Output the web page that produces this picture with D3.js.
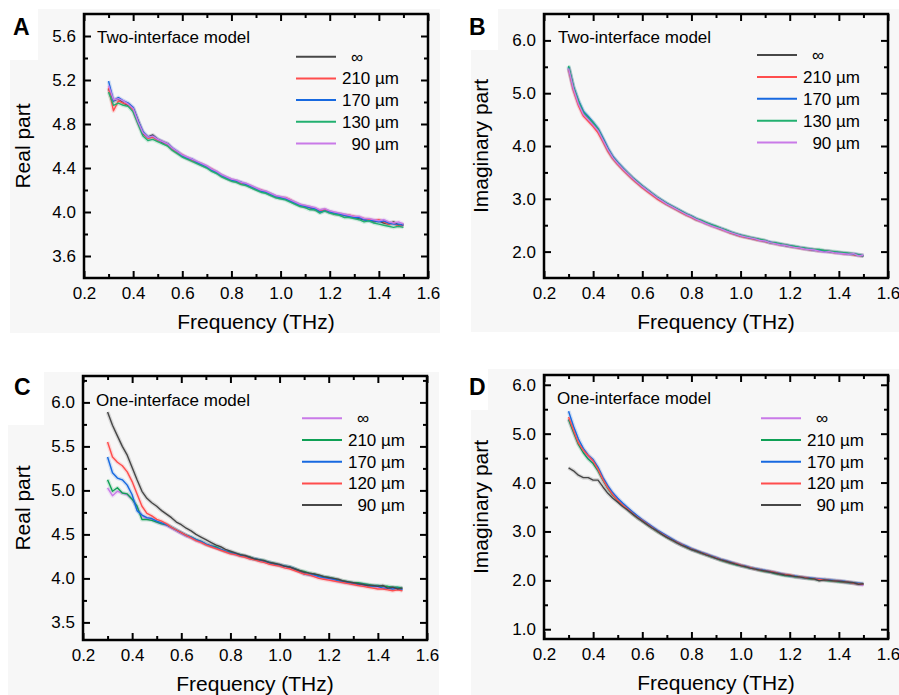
<!DOCTYPE html>
<html>
<head>
<meta charset="utf-8">
<script src="https://cdn.jsdelivr.net/npm/d3@7"></script>
<style>
	body { margin: 0; background: #fff; }
	svg { display: block; font-family: "Liberation Sans", Arial, sans-serif; }
</style>
</head>
<body>
<div id="chart"></div>
<script>
// frequency grid (THz), shared by every series
const freq = [
	0.30, 0.32, 0.34, 0.36, 0.38, 0.40, 0.42, 0.44, 0.46, 0.48,
	0.50, 0.52, 0.54, 0.56, 0.58, 0.60, 0.62, 0.64, 0.66, 0.68,
	0.70, 0.72, 0.74, 0.76, 0.78, 0.80, 0.82, 0.84, 0.86, 0.88,
	0.90, 0.92, 0.94, 0.96, 0.98, 1.00, 1.02, 1.04, 1.06, 1.08,
	1.10, 1.12, 1.14, 1.16, 1.18, 1.20, 1.22, 1.24, 1.26, 1.28,
	1.30, 1.32, 1.34, 1.36, 1.38, 1.40, 1.42, 1.44, 1.46, 1.48,
	1.50,
];

const labelsTwo = ["∞", "210 µm", "170 µm", "130 µm", "90 µm"];
const labelsOne = ["∞", "210 µm", "170 µm", "120 µm", "90 µm"];

// Panel A: real part, two-interface model
const aInf = [
	5.12, 5.01, 5.03, 4.99, 4.97, 4.94, 4.83, 4.71, 4.68, 4.70,
	4.66, 4.63, 4.62, 4.57, 4.54, 4.51, 4.49, 4.47, 4.45, 4.43,
	4.41, 4.38, 4.36, 4.33, 4.31, 4.29, 4.28, 4.26, 4.25, 4.23,
	4.21, 4.19, 4.18, 4.16, 4.14, 4.13, 4.12, 4.10, 4.08, 4.06,
	4.05, 4.04, 4.02, 4.01, 4.02, 4.00, 3.98, 3.98, 3.97, 3.96,
	3.95, 3.94, 3.93, 3.93, 3.91, 3.92, 3.90, 3.89, 3.91, 3.88,
	3.89,
];
const a210 = [
	5.13, 4.92, 5.01, 4.99, 4.98, 4.93, 4.81, 4.72, 4.67, 4.68,
	4.65, 4.64, 4.61, 4.57, 4.54, 4.52, 4.49, 4.47, 4.45, 4.43,
	4.41, 4.39, 4.36, 4.33, 4.31, 4.29, 4.28, 4.26, 4.25, 4.23,
	4.21, 4.20, 4.18, 4.16, 4.14, 4.13, 4.13, 4.11, 4.08, 4.06,
	4.05, 4.04, 4.03, 4.01, 4.02, 4.00, 3.99, 3.98, 3.97, 3.97,
	3.96, 3.95, 3.94, 3.93, 3.92, 3.93, 3.91, 3.89, 3.90, 3.87,
	3.88,
];
const a170 = [
	5.19, 5.01, 5.04, 5.01, 4.99, 4.95, 4.83, 4.73, 4.68, 4.69,
	4.66, 4.64, 4.62, 4.58, 4.55, 4.51, 4.49, 4.48, 4.45, 4.43,
	4.41, 4.38, 4.36, 4.33, 4.31, 4.29, 4.28, 4.27, 4.25, 4.23,
	4.21, 4.19, 4.18, 4.16, 4.14, 4.13, 4.12, 4.10, 4.08, 4.06,
	4.05, 4.04, 4.03, 4.00, 4.01, 4.00, 3.99, 3.98, 3.97, 3.96,
	3.95, 3.95, 3.93, 3.92, 3.92, 3.91, 3.92, 3.90, 3.89, 3.89,
	3.88,
];
const a130 = [
	5.09, 4.97, 4.99, 4.97, 4.96, 4.91, 4.80, 4.69, 4.65, 4.66,
	4.64, 4.62, 4.60, 4.56, 4.53, 4.50, 4.48, 4.46, 4.44, 4.42,
	4.40, 4.37, 4.35, 4.32, 4.30, 4.28, 4.27, 4.25, 4.24, 4.22,
	4.20, 4.18, 4.17, 4.15, 4.13, 4.12, 4.11, 4.09, 4.07, 4.05,
	4.04, 4.02, 4.02, 3.99, 4.01, 3.99, 3.98, 3.97, 3.95, 3.95,
	3.94, 3.93, 3.91, 3.92, 3.90, 3.89, 3.88, 3.87, 3.86, 3.87,
	3.86,
];
const a90 = [
	5.15, 5.02, 5.03, 5.01, 4.98, 4.94, 4.82, 4.72, 4.68, 4.69,
	4.66, 4.64, 4.62, 4.58, 4.55, 4.52, 4.50, 4.48, 4.46, 4.44,
	4.42, 4.39, 4.37, 4.34, 4.32, 4.30, 4.29, 4.27, 4.26, 4.24,
	4.22, 4.20, 4.19, 4.17, 4.15, 4.14, 4.13, 4.11, 4.09, 4.07,
	4.06, 4.05, 4.04, 4.02, 4.03, 4.01, 4.00, 3.99, 3.98, 3.97,
	3.96, 3.96, 3.94, 3.94, 3.93, 3.92, 3.93, 3.91, 3.90, 3.91,
	3.89,
];

// Panel B: imaginary part, two-interface model
const bInf = [
	5.49, 5.09, 4.82, 4.61, 4.52, 4.41, 4.30, 4.12, 3.93, 3.78,
	3.67, 3.57, 3.48, 3.39, 3.31, 3.23, 3.16, 3.09, 3.02, 2.96,
	2.90, 2.85, 2.80, 2.75, 2.70, 2.66, 2.61, 2.58, 2.54, 2.50,
	2.47, 2.43, 2.40, 2.36, 2.33, 2.30, 2.28, 2.26, 2.24, 2.22,
	2.20, 2.17, 2.16, 2.14, 2.12, 2.10, 2.09, 2.07, 2.06, 2.04,
	2.03, 2.02, 2.01, 2.00, 1.99, 1.98, 1.97, 1.96, 1.95, 1.93,
	1.92,
];
const b210 = [
	5.46, 5.05, 4.77, 4.57, 4.47, 4.37, 4.25, 4.08, 3.90, 3.76,
	3.65, 3.55, 3.46, 3.37, 3.29, 3.21, 3.14, 3.07, 3.00, 2.94,
	2.89, 2.84, 2.79, 2.74, 2.69, 2.65, 2.60, 2.57, 2.53, 2.49,
	2.46, 2.42, 2.39, 2.35, 2.32, 2.29, 2.27, 2.25, 2.23, 2.21,
	2.19, 2.17, 2.15, 2.13, 2.12, 2.10, 2.08, 2.07, 2.05, 2.04,
	2.03, 2.01, 2.01, 2.00, 1.98, 1.98, 1.96, 1.96, 1.94, 1.93,
	1.92,
];
const b170 = [
	5.50, 5.12, 4.86, 4.66, 4.56, 4.45, 4.33, 4.15, 3.96, 3.80,
	3.69, 3.59, 3.49, 3.40, 3.32, 3.24, 3.17, 3.10, 3.03, 2.97,
	2.91, 2.86, 2.81, 2.76, 2.71, 2.67, 2.62, 2.58, 2.54, 2.51,
	2.47, 2.44, 2.40, 2.37, 2.33, 2.31, 2.28, 2.26, 2.24, 2.22,
	2.20, 2.18, 2.16, 2.14, 2.12, 2.11, 2.09, 2.08, 2.06, 2.05,
	2.03, 2.02, 2.01, 2.00, 1.99, 1.98, 1.97, 1.96, 1.95, 1.94,
	1.92,
];
const b130 = [
	5.52, 5.12, 4.85, 4.64, 4.54, 4.44, 4.32, 4.13, 3.94, 3.79,
	3.68, 3.58, 3.49, 3.40, 3.32, 3.24, 3.17, 3.10, 3.03, 2.97,
	2.91, 2.86, 2.81, 2.76, 2.71, 2.67, 2.62, 2.59, 2.55, 2.51,
	2.48, 2.44, 2.41, 2.37, 2.34, 2.31, 2.29, 2.27, 2.25, 2.23,
	2.21, 2.17, 2.17, 2.15, 2.13, 2.11, 2.10, 2.08, 2.07, 2.05,
	2.04, 2.04, 2.02, 2.01, 2.00, 1.99, 1.98, 1.97, 1.96, 1.94,
	1.92,
];
const b90 = [
	5.47, 5.08, 4.80, 4.60, 4.50, 4.40, 4.29, 4.11, 3.93, 3.78,
	3.67, 3.57, 3.48, 3.39, 3.31, 3.23, 3.16, 3.09, 3.02, 2.96,
	2.90, 2.85, 2.80, 2.75, 2.70, 2.66, 2.61, 2.57, 2.53, 2.49,
	2.46, 2.43, 2.39, 2.36, 2.33, 2.30, 2.28, 2.26, 2.24, 2.21,
	2.20, 2.17, 2.15, 2.13, 2.12, 2.10, 2.08, 2.07, 2.05, 2.04,
	2.03, 2.01, 1.99, 2.00, 1.98, 1.97, 1.96, 1.95, 1.96, 1.92,
	1.93,
];

// Panel C: real part, one-interface model
const cInf = [
	5.03, 4.94, 4.99, 4.97, 4.95, 4.90, 4.81, 4.71, 4.68, 4.67,
	4.64, 4.62, 4.60, 4.57, 4.54, 4.51, 4.48, 4.46, 4.43, 4.41,
	4.39, 4.37, 4.35, 4.33, 4.31, 4.29, 4.27, 4.26, 4.25, 4.23,
	4.22, 4.20, 4.19, 4.17, 4.16, 4.15, 4.13, 4.12, 4.10, 4.08,
	4.06, 4.05, 4.03, 4.02, 4.01, 3.99, 3.98, 3.97, 3.96, 3.95,
	3.94, 3.93, 3.92, 3.92, 3.91, 3.90, 3.90, 3.89, 3.89, 3.88,
	3.89,
];
const c210 = [
	5.12, 4.99, 5.03, 4.97, 4.96, 4.90, 4.82, 4.67, 4.67, 4.66,
	4.64, 4.62, 4.61, 4.58, 4.55, 4.52, 4.49, 4.47, 4.44, 4.42,
	4.39, 4.37, 4.36, 4.33, 4.31, 4.30, 4.28, 4.27, 4.25, 4.24,
	4.22, 4.21, 4.20, 4.18, 4.17, 4.15, 4.14, 4.13, 4.11, 4.09,
	4.08, 4.06, 4.05, 4.03, 4.02, 4.01, 4.00, 3.98, 3.97, 3.96,
	3.95, 3.95, 3.94, 3.93, 3.92, 3.92, 3.91, 3.91, 3.90, 3.90,
	3.89,
];
const c170 = [
	5.38, 5.20, 5.14, 5.12, 5.06, 4.95, 4.77, 4.72, 4.69, 4.68,
	4.65, 4.63, 4.61, 4.58, 4.55, 4.52, 4.49, 4.47, 4.44, 4.42,
	4.39, 4.37, 4.35, 4.33, 4.31, 4.29, 4.28, 4.26, 4.25, 4.23,
	4.22, 4.21, 4.19, 4.18, 4.16, 4.15, 4.14, 4.13, 4.11, 4.08,
	4.05, 4.04, 4.04, 4.02, 4.01, 4.00, 3.99, 3.97, 3.96, 3.95,
	3.94, 3.93, 3.93, 3.92, 3.91, 3.91, 3.89, 3.89, 3.88, 3.89,
	3.87,
];
const c120 = [
	5.55, 5.38, 5.32, 5.28, 5.21, 5.10, 4.96, 4.82, 4.74, 4.71,
	4.67, 4.65, 4.62, 4.58, 4.55, 4.52, 4.49, 4.46, 4.43, 4.41,
	4.38, 4.36, 4.34, 4.32, 4.30, 4.28, 4.27, 4.25, 4.24, 4.22,
	4.21, 4.19, 4.18, 4.16, 4.15, 4.14, 4.12, 4.11, 4.09, 4.07,
	4.05, 4.04, 4.02, 4.00, 3.99, 3.98, 3.97, 3.96, 3.95, 3.94,
	3.93, 3.92, 3.91, 3.90, 3.89, 3.88, 3.88, 3.87, 3.86, 3.87,
	3.86,
];
const c90 = [
	5.89, 5.74, 5.62, 5.50, 5.40, 5.26, 5.12, 4.99, 4.91, 4.86,
	4.82, 4.77, 4.73, 4.69, 4.64, 4.61, 4.57, 4.54, 4.50, 4.47,
	4.44, 4.41, 4.38, 4.36, 4.33, 4.31, 4.29, 4.27, 4.26, 4.24,
	4.22, 4.21, 4.20, 4.18, 4.17, 4.16, 4.14, 4.13, 4.11, 4.09,
	4.07, 4.06, 4.05, 4.04, 4.02, 4.01, 4.00, 3.99, 3.97, 3.96,
	3.95, 3.94, 3.93, 3.92, 3.92, 3.91, 3.92, 3.89, 3.90, 3.88,
	3.89,
];

// Panel D: imaginary part, one-interface model
const dInf = [
	5.30, 5.04, 4.80, 4.64, 4.50, 4.40, 4.26, 4.07, 3.90, 3.76,
	3.65, 3.55, 3.46, 3.37, 3.29, 3.22, 3.15, 3.08, 3.01, 2.95,
	2.89, 2.83, 2.77, 2.72, 2.68, 2.63, 2.59, 2.56, 2.52, 2.49,
	2.45, 2.42, 2.39, 2.36, 2.33, 2.30, 2.28, 2.25, 2.23, 2.21,
	2.19, 2.17, 2.15, 2.13, 2.11, 2.09, 2.08, 2.06, 2.05, 2.04,
	2.03, 2.02, 2.00, 2.00, 1.98, 1.98, 1.96, 1.95, 1.94, 1.92,
	1.90,
];
const d210 = [
	5.29, 5.03, 4.78, 4.61, 4.48, 4.39, 4.24, 4.05, 3.88, 3.74,
	3.63, 3.54, 3.45, 3.36, 3.28, 3.21, 3.14, 3.07, 3.00, 2.94,
	2.88, 2.82, 2.77, 2.72, 2.67, 2.63, 2.59, 2.55, 2.52, 2.48,
	2.45, 2.41, 2.38, 2.35, 2.32, 2.30, 2.27, 2.25, 2.23, 2.20,
	2.18, 2.17, 2.14, 2.12, 2.10, 2.09, 2.07, 2.06, 2.05, 2.03,
	2.02, 2.01, 2.00, 1.99, 1.98, 1.97, 1.96, 1.95, 1.94, 1.93,
	1.92,
];
const d170 = [
	5.46, 5.15, 4.89, 4.70, 4.56, 4.47, 4.31, 4.10, 3.93, 3.79,
	3.68, 3.58, 3.49, 3.40, 3.32, 3.24, 3.17, 3.10, 3.03, 2.97,
	2.91, 2.85, 2.79, 2.74, 2.70, 2.65, 2.61, 2.57, 2.54, 2.50,
	2.47, 2.43, 2.40, 2.37, 2.34, 2.31, 2.29, 2.26, 2.24, 2.22,
	2.20, 2.18, 2.16, 2.14, 2.12, 2.10, 2.09, 2.07, 2.06, 2.05,
	2.04, 2.03, 2.02, 2.01, 2.00, 1.99, 1.98, 1.96, 1.95, 1.94,
	1.93,
];
const d120 = [
	5.34, 5.07, 4.81, 4.66, 4.55, 4.44, 4.27, 4.06, 3.89, 3.75,
	3.64, 3.54, 3.46, 3.37, 3.29, 3.22, 3.15, 3.08, 3.01, 2.95,
	2.89, 2.83, 2.78, 2.73, 2.68, 2.64, 2.60, 2.56, 2.53, 2.49,
	2.46, 2.42, 2.39, 2.36, 2.34, 2.31, 2.28, 2.26, 2.23, 2.21,
	2.19, 2.18, 2.16, 2.13, 2.12, 2.11, 2.08, 2.07, 2.06, 2.04,
	2.03, 2.02, 2.01, 2.00, 1.99, 1.98, 1.97, 1.96, 1.94, 1.93,
	1.92,
];
const d90 = [
	4.30, 4.24, 4.15, 4.10, 4.10, 4.05, 4.05, 3.91, 3.78, 3.68,
	3.60, 3.51, 3.44, 3.36, 3.28, 3.21, 3.14, 3.07, 3.01, 2.94,
	2.88, 2.83, 2.77, 2.72, 2.68, 2.63, 2.60, 2.56, 2.52, 2.49,
	2.45, 2.42, 2.39, 2.36, 2.33, 2.30, 2.28, 2.25, 2.23, 2.21,
	2.19, 2.17, 2.15, 2.13, 2.11, 2.10, 2.08, 2.07, 2.05, 2.04,
	2.03, 1.99, 2.01, 2.00, 1.99, 1.98, 1.97, 1.96, 1.95, 1.92,
	1.93,
];

const xTicks = [0.2, 0.4, 0.6, 0.8, 1.0, 1.2, 1.4, 1.6];
const xMinor = [0.3, 0.5, 0.7, 0.9, 1.1, 1.3, 1.5];

const black = "#474747", red = "#ff4d4d", blue = "#1769e0",
	green2 = "#22b070", green1 = "#0fa055", purple = "#c97ae8";

const panels = [
	{
		letter: "A", note: "Two-interface model", yTitle: "Real part",
		box: { left: 84, right: 428, top: 14, bottom: 278 },
		yDomain: [3.4, 5.8], yTicks: [3.6, 4.0, 4.4, 4.8, 5.2, 5.6], yMinor: [3.8, 4.2, 4.6, 5.0, 5.4],
		series: [aInf, a210, a170, a130, a90], labels: labelsTwo,
		colors: [black, red, blue, green2, purple],
		legend: { x: 296, y: 56.7, step: 21.7 },
		bg: { x0: 10, x1: 440, y0: 9, y1: 333, nx: 38, ny: 60 },
		letterPos: [13, 35], notePos: [97, 43], yTitleX: 30,
	},
	{
		letter: "B", note: "Two-interface model", yTitle: "Imaginary part",
		box: { left: 544, right: 888, top: 14, bottom: 278 },
		yDomain: [1.5, 6.5], yTicks: [2.0, 3.0, 4.0, 5.0, 6.0], yMinor: [2.5, 3.5, 4.5, 5.5],
		series: [bInf, b210, b170, b130, b90], labels: labelsTwo,
		colors: [black, red, blue, green2, purple],
		legend: { x: 757, y: 55, step: 21.9 },
		bg: { x0: 471, x1: 899, y0: 9, y1: 332, nx: 498, ny: 50 },
		letterPos: [469, 35], notePos: [558, 42.5], yTitleX: 488,
	},
	{
		letter: "C", note: "One-interface model", yTitle: "Real part",
		box: { left: 83, right: 427, top: 376, bottom: 640 },
		yDomain: [3.3, 6.3], yTicks: [3.5, 4.0, 4.5, 5.0, 5.5, 6.0], yMinor: [3.75, 4.25, 4.75, 5.25, 5.75, 6.25],
		series: [cInf, c210, c170, c120, c90], labels: labelsOne,
		colors: [purple, green1, blue, red, black],
		legend: { x: 302, y: 418.3, step: 21.7 },
		bg: { x0: 8, x1: 439, y0: 372, y1: 695, nx: 44, ny: 425 },
		letterPos: [14, 395], notePos: [96, 405.5], yTitleX: 30,
	},
	{
		letter: "D", note: "One-interface model", yTitle: "Imaginary part",
		box: { left: 544, right: 888, top: 375, bottom: 639 },
		yDomain: [0.8, 6.2], yTicks: [1.0, 2.0, 3.0, 4.0, 5.0, 6.0], yMinor: [1.5, 2.5, 3.5, 4.5, 5.5],
		series: [dInf, d210, d170, d120, d90], labels: labelsOne,
		colors: [purple, green1, blue, red, black],
		legend: { x: 761, y: 418.3, step: 21.7 },
		bg: { x0: 471, x1: 899, y0: 369, y1: 695, nx: 488, ny: 410 },
		letterPos: [469, 395], notePos: [557, 404], yTitleX: 488,
	},
];

const svg = d3.select("#chart").append("svg").attr("width", 899).attr("height", 695);
const fmt = d3.format(".1f");

panels.forEach((p) => {
	const b = p.box;
	const g = svg.append("g");

	// light grey panel background with a white notch for the letter
	const bg = p.bg;
	g.append("path")
		.attr("d", `M${bg.nx},${bg.y0}H${bg.x1}V${bg.y1}H${bg.x0}V${bg.ny}H${bg.nx}Z`)
		.attr("fill", "#f7f7f7");

	const x = d3.scaleLinear().domain([0.2, 1.6]).range([b.left, b.right]);
	const y = d3.scaleLinear().domain(p.yDomain).range([b.bottom, b.top]);

	// data lines: a faint wide stroke for the error band, then the line itself
	const line = d3.line()
		.defined((d) => d.v != null)
		.x((d) => x(d.f))
		.y((d) => y(d.v));
	p.series.forEach((vals, i) => {
		const pts = freq.map((f, k) => ({ f: f, v: vals[k] }));
		g.append("path").attr("d", line(pts))
			.attr("fill", "none").attr("stroke", p.colors[i])
			.attr("stroke-width", 4).attr("stroke-opacity", 0.18)
			.attr("stroke-linejoin", "round");
	});
	p.series.forEach((vals, i) => {
		const pts = freq.map((f, k) => ({ f: f, v: vals[k] }));
		g.append("path").attr("d", line(pts))
			.attr("fill", "none").attr("stroke", p.colors[i])
			.attr("stroke-width", 1.4).attr("stroke-linejoin", "round");
	});

	// axes, ticks pointing inward on all four sides
	const styleAxis = (sel) => {
		sel.select(".domain").remove();
		sel.selectAll("line").attr("stroke", "#000").attr("stroke-width", 2);
		sel.selectAll("text").attr("fill", "#000").style("font-size", "17px")
			.style("font-family", '"Liberation Sans", Arial, sans-serif');
	};
	g.append("g").attr("transform", `translate(0,${b.bottom})`)
		.call(d3.axisBottom(x).tickValues(xTicks).tickSize(-7).tickPadding(9).tickFormat(fmt))
		.call(styleAxis);
	g.append("g").attr("transform", `translate(0,${b.bottom})`)
		.call(d3.axisBottom(x).tickValues(xMinor).tickSize(-4).tickFormat(""))
		.call(styleAxis);
	g.append("g").attr("transform", `translate(0,${b.top})`)
		.call(d3.axisTop(x).tickValues(xTicks).tickSize(-7).tickFormat(""))
		.call(styleAxis);
	g.append("g").attr("transform", `translate(0,${b.top})`)
		.call(d3.axisTop(x).tickValues(xMinor).tickSize(-4).tickFormat(""))
		.call(styleAxis);
	g.append("g").attr("transform", `translate(${b.left},0)`)
		.call(d3.axisLeft(y).tickValues(p.yTicks).tickSize(-7).tickPadding(8).tickFormat(fmt))
		.call(styleAxis);
	g.append("g").attr("transform", `translate(${b.left},0)`)
		.call(d3.axisLeft(y).tickValues(p.yMinor).tickSize(-4).tickFormat(""))
		.call(styleAxis);
	g.append("g").attr("transform", `translate(${b.right},0)`)
		.call(d3.axisRight(y).tickValues(p.yTicks).tickSize(-7).tickFormat(""))
		.call(styleAxis);
	g.append("g").attr("transform", `translate(${b.right},0)`)
		.call(d3.axisRight(y).tickValues(p.yMinor).tickSize(-4).tickFormat(""))
		.call(styleAxis);

	g.append("rect")
		.attr("x", b.left).attr("y", b.top)
		.attr("width", b.right - b.left).attr("height", b.bottom - b.top)
		.attr("fill", "none").attr("stroke", "#000").attr("stroke-width", 2.5);

	// titles
	g.append("text").text("Frequency (THz)")
		.attr("x", (b.left + b.right) / 2).attr("y", b.bottom + 50.5)
		.attr("text-anchor", "middle").style("font-size", "21px");
	g.append("text").text(p.yTitle)
		.attr("transform", `translate(${p.yTitleX},${(b.top + b.bottom) / 2}) rotate(-90)`)
		.attr("text-anchor", "middle").style("font-size", "21px");
	g.append("text").text(p.letter)
		.attr("x", p.letterPos[0]).attr("y", p.letterPos[1])
		.style("font-size", "23px").style("font-weight", "bold");
	g.append("text").text(p.note)
		.attr("x", p.notePos[0]).attr("y", p.notePos[1])
		.style("font-size", "17px");

	// legend
	const lg = p.legend;
	p.labels.forEach((lab, i) => {
		const ly = lg.y + i * lg.step;
		g.append("line")
			.attr("x1", lg.x).attr("x2", lg.x + 40)
			.attr("y1", ly).attr("y2", ly)
			.attr("stroke", p.colors[i]).attr("stroke-width", 2);
		const isInf = lab === "∞";
		g.append("text").text(lab)
			.attr("x", isInf ? lg.x + 61 : lg.x + 103)
			.attr("y", ly + 6)
			.attr("text-anchor", isInf ? "middle" : "end")
			.style("font-size", "17px");
	});
});
</script>
</body>
</html>
